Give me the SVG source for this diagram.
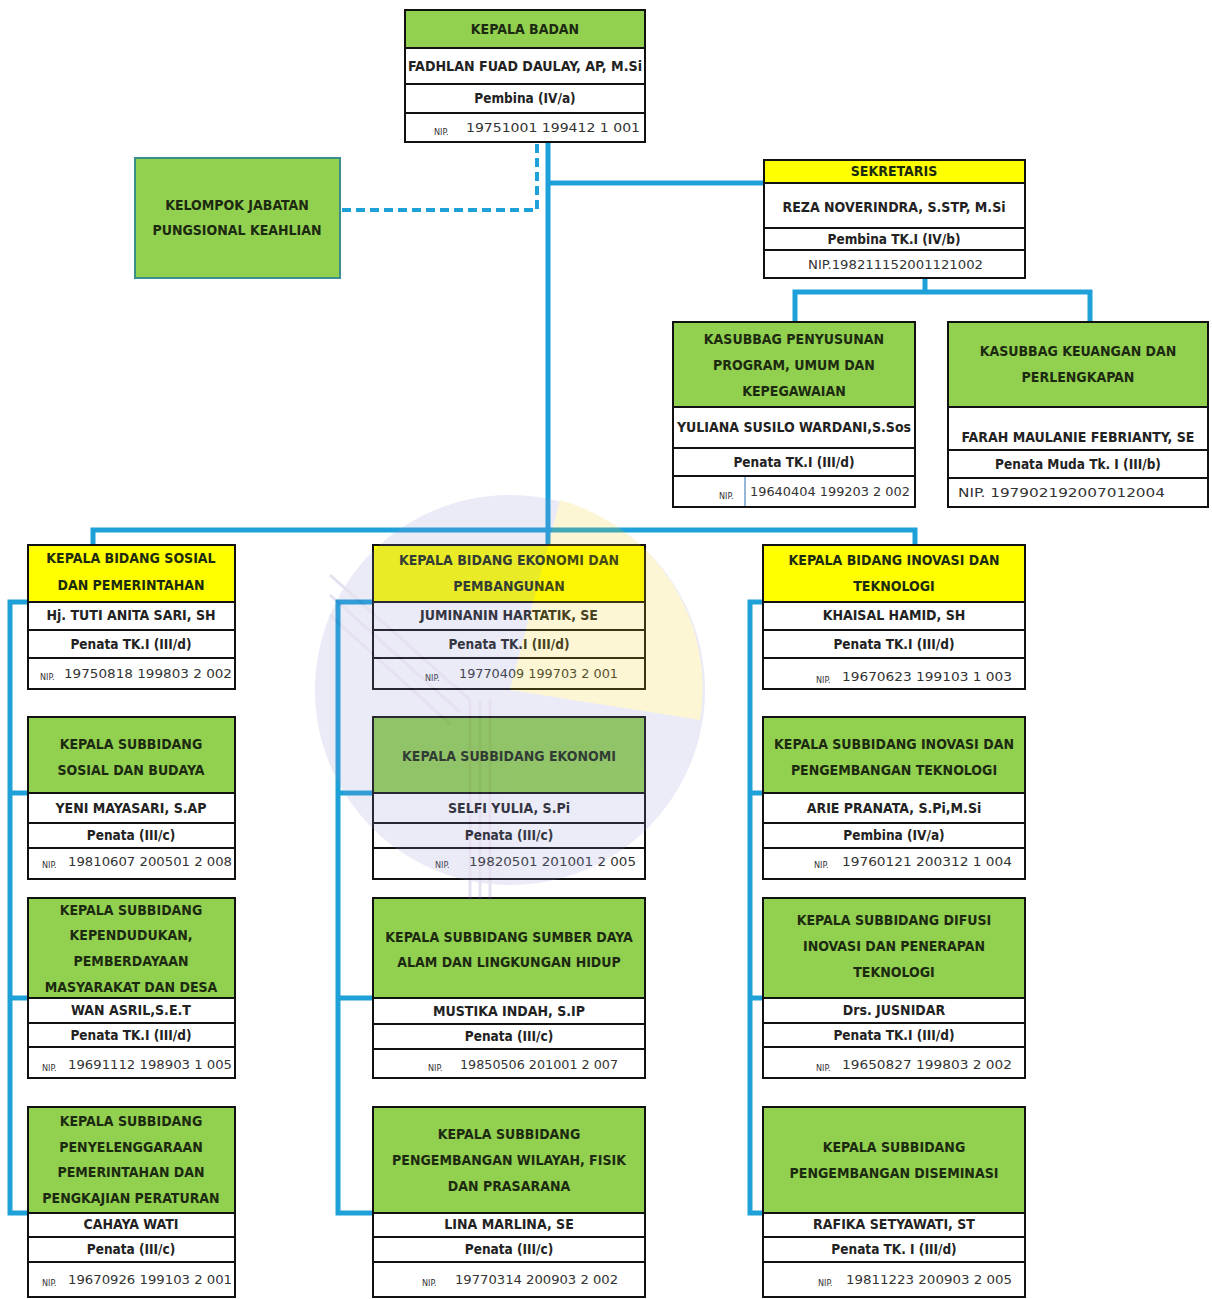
<svg xmlns="http://www.w3.org/2000/svg" width="1212" height="1299" viewBox="0 0 1212 1299">
<style>
.g{fill:#92d050}
.y{fill:#ffff00}
.w{fill:#ffffff}
.bx{fill:none;stroke:#111;stroke-width:2}
.dv{stroke:#111;stroke-width:2}
.h{font-family:"DejaVu Sans Condensed","DejaVu Sans",sans-serif;font-weight:bold;font-size:14px;text-anchor:middle;fill:#1c2a10}
.n{font-family:"DejaVu Sans Condensed","DejaVu Sans",sans-serif;font-weight:bold;font-size:14px;text-anchor:middle;fill:#222}
.p{font-family:"DejaVu Sans Condensed","DejaVu Sans",sans-serif;font-weight:bold;font-size:13.5px;text-anchor:middle;fill:#222}
.nip{font-family:"DejaVu Sans Condensed","DejaVu Sans",sans-serif;font-size:13px;fill:#333}
.nl{font-family:"DejaVu Sans Condensed","DejaVu Sans",sans-serif;font-size:9px;fill:#333}
.ln{stroke:#1ea1d8;stroke-width:5;fill:none}
.dash{stroke:#1ea1d8;stroke-width:4;fill:none;stroke-dasharray:9 5}
</style>
<rect width="1212" height="1299" fill="#ffffff"/>

<g id="connectors">
<line class="ln" x1="548" y1="142" x2="548" y2="545"/>
<polyline class="dash" points="537,144 537,210 340,210"/>
<line class="ln" x1="548" y1="183" x2="764" y2="183"/>
<line class="ln" x1="925" y1="278" x2="925" y2="292"/>
<polyline class="ln" points="795,322 795,292 1090,292 1090,322"/>
<polyline class="ln" points="93,545 93,530 915,530 915,545"/>
<polyline class="ln" points="28,602 10,602 10,1213 28,1213"/>
<line class="ln" x1="10" y1="793" x2="28" y2="793"/>
<line class="ln" x1="10" y1="998" x2="28" y2="998"/>
<polyline class="ln" points="373,602 338,602 338,1213 373,1213"/>
<line class="ln" x1="338" y1="793" x2="373" y2="793"/>
<line class="ln" x1="338" y1="998" x2="373" y2="998"/>
<polyline class="ln" points="763,602 750,602 750,1213 763,1213"/>
<line class="ln" x1="750" y1="793" x2="763" y2="793"/>
<line class="ln" x1="750" y1="998" x2="763" y2="998"/>
</g>

<g id="kepala-badan">
<rect x="405" y="10" width="240" height="38" class="g"/>
<rect x="405" y="48" width="240" height="94" class="w"/>
<line class="dv" x1="405" y1="48" x2="645" y2="48"/>
<line class="dv" x1="405" y1="84" x2="645" y2="84"/>
<line class="dv" x1="405" y1="113" x2="645" y2="113"/>
<rect x="405" y="10" width="240" height="132" class="bx"/>
<text class="h" x="525" y="34">KEPALA BADAN</text>
<text class="n" x="525" y="71" textLength="234" lengthAdjust="spacingAndGlyphs">FADHLAN FUAD DAULAY, AP, M.Si</text>
<text class="p" x="525" y="103">Pembina (IV/a)</text>
<text class="nl" x="434" y="135">NIP.</text>
<text class="nip" x="466" y="132" textLength="174" lengthAdjust="spacingAndGlyphs">19751001 199412 1 001</text>
</g>

<g id="kelompok">
<rect x="135" y="158" width="205" height="120" class="g" stroke="#3a8f8a" stroke-width="2"/>
<text class="h" x="237" y="210">KELOMPOK JABATAN</text>
<text class="h" x="237" y="235">PUNGSIONAL KEAHLIAN</text>
</g>

<g id="sekretaris">
<rect x="764" y="160" width="261" height="23" class="y"/>
<rect x="764" y="183" width="261" height="95" class="w"/>
<line class="dv" x1="764" y1="183" x2="1025" y2="183"/>
<line class="dv" x1="764" y1="228" x2="1025" y2="228"/>
<line class="dv" x1="764" y1="250" x2="1025" y2="250"/>
<rect x="764" y="160" width="261" height="118" class="bx"/>
<text class="h" x="894" y="176">SEKRETARIS</text>
<text class="n" x="894" y="212">REZA NOVERINDRA, S.STP, M.Si</text>
<text class="p" x="894" y="244">Pembina TK.I (IV/b)</text>
<text class="nip" x="808" y="269" textLength="175" lengthAdjust="spacingAndGlyphs">NIP.198211152001121002</text>
</g>

<g id="kasubbag-program">
<rect x="673" y="322" width="242" height="85" class="g"/>
<rect x="673" y="407" width="242" height="100" class="w"/>
<line class="dv" x1="673" y1="407" x2="915" y2="407"/>
<line class="dv" x1="673" y1="448" x2="915" y2="448"/>
<line class="dv" x1="673" y1="476" x2="915" y2="476"/>
<line x1="745" y1="477" x2="745" y2="506" stroke="#2a6fb0" stroke-width="1"/>
<rect x="673" y="322" width="242" height="185" class="bx"/>
<text class="h" x="794" y="344">KASUBBAG PENYUSUNAN</text>
<text class="h" x="794" y="370">PROGRAM, UMUM DAN</text>
<text class="h" x="794" y="396">KEPEGAWAIAN</text>
<text class="n" x="794" y="432">YULIANA SUSILO WARDANI,S.Sos</text>
<text class="p" x="794" y="467">Penata TK.I (III/d)</text>
<text class="nl" x="719" y="499">NIP.</text>
<text class="nip" x="750" y="496" textLength="160" lengthAdjust="spacingAndGlyphs">19640404 199203 2 002</text>
</g>

<g id="kasubbag-keuangan">
<rect x="948" y="322" width="260" height="85" class="g"/>
<rect x="948" y="407" width="260" height="100" class="w"/>
<line class="dv" x1="948" y1="407" x2="1208" y2="407"/>
<line class="dv" x1="948" y1="450" x2="1208" y2="450"/>
<line class="dv" x1="948" y1="478" x2="1208" y2="478"/>
<rect x="948" y="322" width="260" height="185" class="bx"/>
<text class="h" x="1078" y="356">KASUBBAG KEUANGAN DAN</text>
<text class="h" x="1078" y="382">PERLENGKAPAN</text>
<text class="n" x="1078" y="442">FARAH MAULANIE FEBRIANTY, SE</text>
<text class="p" x="1078" y="469">Penata Muda Tk. I (III/b)</text>
<text class="nip" x="958" y="497" textLength="207" lengthAdjust="spacingAndGlyphs">NIP. 197902192007012004</text>
</g>

<!-- Column 1 -->
<g id="bidang-sosial">
<rect x="28" y="545" width="207" height="57" class="y"/>
<rect x="28" y="602" width="207" height="87" class="w"/>
<line class="dv" x1="28" y1="602" x2="235" y2="602"/>
<line class="dv" x1="28" y1="630" x2="235" y2="630"/>
<line class="dv" x1="28" y1="658" x2="235" y2="658"/>
<rect x="28" y="545" width="207" height="144" class="bx"/>
<text class="h" x="131" y="563">KEPALA BIDANG SOSIAL</text>
<text class="h" x="131" y="590">DAN PEMERINTAHAN</text>
<text class="n" x="131" y="620">Hj. TUTI ANITA SARI, SH</text>
<text class="p" x="131" y="649">Penata TK.I (III/d)</text>
<text class="nl" x="40" y="680">NIP.</text>
<text class="nip" x="64" y="678" textLength="168" lengthAdjust="spacingAndGlyphs">19750818 199803 2 002</text>
</g>
<g id="subbidang-sosial-budaya">
<rect x="28" y="717" width="207" height="76" class="g"/>
<rect x="28" y="793" width="207" height="86" class="w"/>
<line class="dv" x1="28" y1="793" x2="235" y2="793"/>
<line class="dv" x1="28" y1="823" x2="235" y2="823"/>
<line class="dv" x1="28" y1="848" x2="235" y2="848"/>
<rect x="28" y="717" width="207" height="162" class="bx"/>
<text class="h" x="131" y="749">KEPALA SUBBIDANG</text>
<text class="h" x="131" y="775">SOSIAL DAN BUDAYA</text>
<text class="n" x="131" y="813">YENI MAYASARI, S.AP</text>
<text class="p" x="131" y="840">Penata  (III/c)</text>
<text class="nl" x="42" y="868">NIP.</text>
<text class="nip" x="68" y="866" textLength="164" lengthAdjust="spacingAndGlyphs">19810607 200501 2 008</text>
</g>
<g id="subbidang-kependudukan">
<rect x="28" y="898" width="207" height="100" class="g"/>
<rect x="28" y="998" width="207" height="80" class="w"/>
<line class="dv" x1="28" y1="998" x2="235" y2="998"/>
<line class="dv" x1="28" y1="1023" x2="235" y2="1023"/>
<line class="dv" x1="28" y1="1047" x2="235" y2="1047"/>
<rect x="28" y="898" width="207" height="180" class="bx"/>
<text class="h" x="131" y="915">KEPALA SUBBIDANG</text>
<text class="h" x="131" y="940">KEPENDUDUKAN,</text>
<text class="h" x="131" y="966">PEMBERDAYAAN</text>
<text class="h" x="131" y="992">MASYARAKAT DAN DESA</text>
<text class="n" x="131" y="1015">WAN ASRIL,S.E.T</text>
<text class="p" x="131" y="1040">Penata TK.I (III/d)</text>
<text class="nl" x="42" y="1071">NIP.</text>
<text class="nip" x="68" y="1069" textLength="164" lengthAdjust="spacingAndGlyphs">19691112 198903 1 005</text>
</g>
<g id="subbidang-penyelenggaraan">
<rect x="28" y="1107" width="207" height="106" class="g"/>
<rect x="28" y="1213" width="207" height="84" class="w"/>
<line class="dv" x1="28" y1="1213" x2="235" y2="1213"/>
<line class="dv" x1="28" y1="1237" x2="235" y2="1237"/>
<line class="dv" x1="28" y1="1262" x2="235" y2="1262"/>
<rect x="28" y="1107" width="207" height="190" class="bx"/>
<text class="h" x="131" y="1126">KEPALA SUBBIDANG</text>
<text class="h" x="131" y="1152">PENYELENGGARAAN</text>
<text class="h" x="131" y="1177">PEMERINTAHAN DAN</text>
<text class="h" x="131" y="1203">PENGKAJIAN PERATURAN</text>
<text class="n" x="131" y="1229">CAHAYA WATI</text>
<text class="p" x="131" y="1254">Penata (III/c)</text>
<text class="nl" x="42" y="1286">NIP.</text>
<text class="nip" x="68" y="1284" textLength="164" lengthAdjust="spacingAndGlyphs">19670926 199103 2 001</text>
</g>

<!-- Column 2 -->
<g id="bidang-ekonomi">
<rect x="373" y="545" width="272" height="57" class="y"/>
<rect x="373" y="602" width="272" height="87" class="w"/>
<line class="dv" x1="373" y1="602" x2="645" y2="602"/>
<line class="dv" x1="373" y1="630" x2="645" y2="630"/>
<line class="dv" x1="373" y1="658" x2="645" y2="658"/>
<rect x="373" y="545" width="272" height="144" class="bx"/>
<text class="h" x="509" y="565">KEPALA BIDANG EKONOMI DAN</text>
<text class="h" x="509" y="591">PEMBANGUNAN</text>
<text class="n" x="509" y="620">JUMINANIN HARTATIK, SE</text>
<text class="p" x="509" y="649">Penata TK.I (III/d)</text>
<text class="nl" x="425" y="681">NIP.</text>
<text class="nip" x="459" y="678" textLength="159" lengthAdjust="spacingAndGlyphs">19770409 199703 2 001</text>
</g>
<g id="subbidang-ekonomi">
<rect x="373" y="717" width="272" height="76" class="g"/>
<rect x="373" y="793" width="272" height="86" class="w"/>
<line class="dv" x1="373" y1="793" x2="645" y2="793"/>
<line class="dv" x1="373" y1="823" x2="645" y2="823"/>
<line class="dv" x1="373" y1="848" x2="645" y2="848"/>
<rect x="373" y="717" width="272" height="162" class="bx"/>
<text class="h" x="509" y="761">KEPALA SUBBIDANG EKONOMI</text>
<text class="n" x="509" y="813">SELFI YULIA, S.Pi</text>
<text class="p" x="509" y="840">Penata (III/c)</text>
<text class="nl" x="435" y="868">NIP.</text>
<text class="nip" x="469" y="866" textLength="167" lengthAdjust="spacingAndGlyphs">19820501 201001 2 005</text>
</g>
<g id="subbidang-sda">
<rect x="373" y="898" width="272" height="100" class="g"/>
<rect x="373" y="998" width="272" height="80" class="w"/>
<line class="dv" x1="373" y1="998" x2="645" y2="998"/>
<line class="dv" x1="373" y1="1024" x2="645" y2="1024"/>
<line class="dv" x1="373" y1="1049" x2="645" y2="1049"/>
<rect x="373" y="898" width="272" height="180" class="bx"/>
<text class="h" x="509" y="942">KEPALA SUBBIDANG SUMBER DAYA</text>
<text class="h" x="509" y="967">ALAM DAN LINGKUNGAN HIDUP</text>
<text class="n" x="509" y="1016">MUSTIKA INDAH, S.IP</text>
<text class="p" x="509" y="1041">Penata (III/c)</text>
<text class="nl" x="428" y="1071">NIP.</text>
<text class="nip" x="460" y="1069" textLength="158" lengthAdjust="spacingAndGlyphs">19850506 201001 2 007</text>
</g>
<g id="subbidang-wilayah">
<rect x="373" y="1107" width="272" height="106" class="g"/>
<rect x="373" y="1213" width="272" height="84" class="w"/>
<line class="dv" x1="373" y1="1213" x2="645" y2="1213"/>
<line class="dv" x1="373" y1="1237" x2="645" y2="1237"/>
<line class="dv" x1="373" y1="1262" x2="645" y2="1262"/>
<rect x="373" y="1107" width="272" height="190" class="bx"/>
<text class="h" x="509" y="1139">KEPALA SUBBIDANG</text>
<text class="h" x="509" y="1165">PENGEMBANGAN WILAYAH, FISIK</text>
<text class="h" x="509" y="1191">DAN PRASARANA</text>
<text class="n" x="509" y="1229">LINA MARLINA, SE</text>
<text class="p" x="509" y="1254">Penata (III/c)</text>
<text class="nl" x="422" y="1286">NIP.</text>
<text class="nip" x="455" y="1284" textLength="163" lengthAdjust="spacingAndGlyphs">19770314 200903 2 002</text>
</g>

<!-- Column 3 -->
<g id="bidang-inovasi">
<rect x="763" y="545" width="262" height="57" class="y"/>
<rect x="763" y="602" width="262" height="87" class="w"/>
<line class="dv" x1="763" y1="602" x2="1025" y2="602"/>
<line class="dv" x1="763" y1="630" x2="1025" y2="630"/>
<line class="dv" x1="763" y1="658" x2="1025" y2="658"/>
<rect x="763" y="545" width="262" height="144" class="bx"/>
<text class="h" x="894" y="565">KEPALA BIDANG INOVASI DAN</text>
<text class="h" x="894" y="591">TEKNOLOGI</text>
<text class="n" x="894" y="620">KHAISAL HAMID, SH</text>
<text class="p" x="894" y="649">Penata TK.I (III/d)</text>
<text class="nl" x="816" y="683">NIP.</text>
<text class="nip" x="842" y="681" textLength="170" lengthAdjust="spacingAndGlyphs">19670623 199103 1 003</text>
</g>
<g id="subbidang-inovasi">
<rect x="763" y="717" width="262" height="76" class="g"/>
<rect x="763" y="793" width="262" height="86" class="w"/>
<line class="dv" x1="763" y1="793" x2="1025" y2="793"/>
<line class="dv" x1="763" y1="823" x2="1025" y2="823"/>
<line class="dv" x1="763" y1="848" x2="1025" y2="848"/>
<rect x="763" y="717" width="262" height="162" class="bx"/>
<text class="h" x="894" y="749">KEPALA SUBBIDANG INOVASI DAN</text>
<text class="h" x="894" y="775">PENGEMBANGAN TEKNOLOGI</text>
<text class="n" x="894" y="813">ARIE PRANATA, S.Pi,M.Si</text>
<text class="p" x="894" y="840">Pembina (IV/a)</text>
<text class="nl" x="814" y="868">NIP.</text>
<text class="nip" x="842" y="866" textLength="170" lengthAdjust="spacingAndGlyphs">19760121 200312 1 004</text>
</g>
<g id="subbidang-difusi">
<rect x="763" y="898" width="262" height="100" class="g"/>
<rect x="763" y="998" width="262" height="80" class="w"/>
<line class="dv" x1="763" y1="998" x2="1025" y2="998"/>
<line class="dv" x1="763" y1="1023" x2="1025" y2="1023"/>
<line class="dv" x1="763" y1="1047" x2="1025" y2="1047"/>
<rect x="763" y="898" width="262" height="180" class="bx"/>
<text class="h" x="894" y="925">KEPALA SUBBIDANG DIFUSI</text>
<text class="h" x="894" y="951">INOVASI DAN PENERAPAN</text>
<text class="h" x="894" y="977">TEKNOLOGI</text>
<text class="n" x="894" y="1015">Drs. JUSNIDAR</text>
<text class="p" x="894" y="1040">Penata TK.I (III/d)</text>
<text class="nl" x="816" y="1071">NIP.</text>
<text class="nip" x="842" y="1069" textLength="170" lengthAdjust="spacingAndGlyphs">19650827 199803 2 002</text>
</g>
<g id="subbidang-diseminasi">
<rect x="763" y="1107" width="262" height="106" class="g"/>
<rect x="763" y="1213" width="262" height="84" class="w"/>
<line class="dv" x1="763" y1="1213" x2="1025" y2="1213"/>
<line class="dv" x1="763" y1="1237" x2="1025" y2="1237"/>
<line class="dv" x1="763" y1="1262" x2="1025" y2="1262"/>
<rect x="763" y="1107" width="262" height="190" class="bx"/>
<text class="h" x="894" y="1152">KEPALA SUBBIDANG</text>
<text class="h" x="894" y="1178">PENGEMBANGAN DISEMINASI</text>
<text class="n" x="894" y="1229">RAFIKA SETYAWATI, ST</text>
<text class="p" x="894" y="1254">Penata TK. I (III/d)</text>
<text class="nl" x="818" y="1286">NIP.</text>
<text class="nip" x="846" y="1284" textLength="166" lengthAdjust="spacingAndGlyphs">19811223 200903 2 005</text>
</g>

<g id="watermark" opacity="0.18">
<circle cx="510" cy="690" r="195" fill="#8f93d6"/>
<path d="M510,690 L560,500 A195,195 0 0 1 700,720 Z" fill="#f3d21c"/>
<g stroke="#7a5fb0" stroke-width="3" fill="none">
<line x1="330" y1="575" x2="470" y2="700"/>
<line x1="330" y1="595" x2="460" y2="712"/>
<line x1="330" y1="615" x2="450" y2="724"/>
<line x1="470" y1="700" x2="470" y2="900"/>
<line x1="480" y1="700" x2="480" y2="900"/>
<line x1="490" y1="700" x2="490" y2="900"/>
</g>
</g>
</svg>
